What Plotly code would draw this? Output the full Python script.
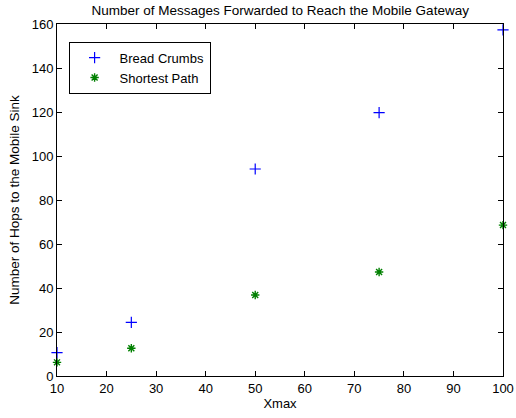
import plotly.graph_objects as go

xmax = [10, 25, 50, 75, 100]
bread_crumbs = [10.6, 24.4, 94.1, 119.7, 157.3]
shortest_path = [6.2, 12.6, 36.8, 47.3, 68.6]
x_ticks = [10, 20, 30, 40, 50, 60, 70, 80, 90, 100]
y_ticks = [0, 20, 40, 60, 80, 100, 120, 140, 160]

FONT = "Liberation Sans, Arial, Helvetica, sans-serif"

fig = go.Figure()
fig.add_trace(go.Scatter(
    x=xmax, y=bread_crumbs, mode="markers", name="Bread Crumbs",
    marker=dict(symbol="cross-thin-open", size=8, color="blue",
                line=dict(width=1.2, color="blue")),
    cliponaxis=False,
))
fig.add_trace(go.Scatter(
    x=xmax, y=shortest_path, mode="markers", name="Shortest Path",
    marker=dict(symbol="asterisk-open", size=7, color="green",
                line=dict(width=1.4, color="green")),
    cliponaxis=False,
))

axis_common = dict(
    showgrid=False, zeroline=False, showline=True, linecolor="black",
    linewidth=1, mirror="ticks", ticks="inside", ticklen=5,
    tickcolor="black", tickwidth=1, automargin=False,
    tickfont=dict(family=FONT, size=13, color="black"),
)

fig.update_layout(
    width=516, height=418,
    margin=dict(l=57, r=13, t=24, b=42),
    paper_bgcolor="white", plot_bgcolor="white",
    title=dict(text="Number of Messages Forwarded to Reach the Mobile Gateway",
               x=0.543, xanchor="center", y=0.975, yanchor="middle",
               font=dict(family=FONT, size=13.5, color="black")),
    xaxis=dict(range=[10, 100], tickvals=x_ticks,
               title=dict(text="Xmax", standoff=4,
                          font=dict(family=FONT, size=13, color="black")),
               **axis_common),
    yaxis=dict(range=[0, 160], tickvals=y_ticks,
               title=dict(text="Number of Hops to the Mobile Sink", standoff=8,
                          font=dict(family=FONT, size=13.5, color="black")),
               **axis_common),
    legend=dict(x=0.026, y=0.95, xanchor="left", yanchor="top",
                bordercolor="black", borderwidth=1, bgcolor="white",
                font=dict(family=FONT, size=13, color="black"),
                itemwidth=40, tracegroupgap=0),
    showlegend=True,
)

fig.write_html("out.html")
